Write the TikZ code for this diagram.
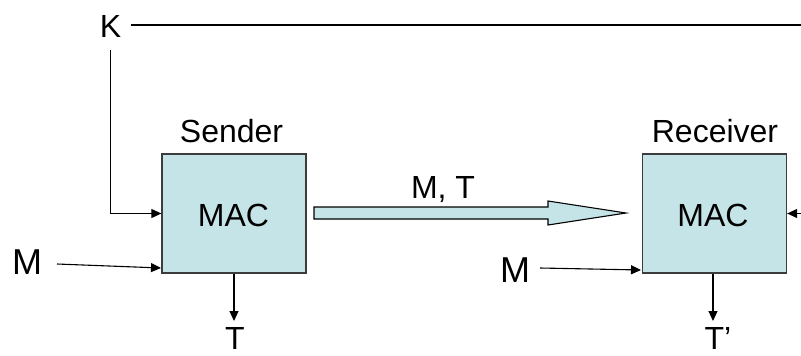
\documentclass[tikz,border=0pt]{standalone}
\usepackage{fontspec}
\setmainfont{Liberation Sans}
\usetikzlibrary{arrows.meta}
\definecolor{macfill}{RGB}{197,228,232}
\definecolor{boxline}{RGB}{60,60,60}
\begin{document}
\begin{tikzpicture}[x=1pt,y=-1pt,
  lbl/.style={inner sep=0pt,anchor=base,font=\fontsize{32}{36}\selectfont},
  mlbl/.style={inner sep=0pt,anchor=base,font=\fontsize{36}{40}\selectfont},
  macbox/.style={draw=boxline,fill=macfill,line width=1.3pt,minimum width=144pt,minimum height=119pt,inner sep=0pt},
  conn/.style={line width=1.1pt,black},
  arr/.style={conn,-{Triangle[length=10pt,width=9pt]}},
  blockarrow/.style={draw=black,fill=macfill,line width=1.1pt,line join=miter}
]
\useasboundingbox (0,0) rectangle (801,356);

% boxes
\node[macbox] (snd) at (234,213.5) {};
\node[macbox] (rcv) at (714.5,213.5) {};

% texts
\node[lbl] (K) at (110.5,37) {K};
\node[lbl] (sndlbl) at (231.5,142) {Sender};
\node[lbl] (rcvlbl) at (715,142) {Receiver};
\node[lbl] (mac1) at (233.5,226.5) {MAC};
\node[lbl] (mac2) at (713,226.5) {MAC};
\node[lbl] (MT) at (443,198) {M, T};
\node[mlbl] (M1) at (27,274) {M};
\node[mlbl] (M2) at (515,282) {M};
\node[lbl] (T1) at (235,349.5) {T};
\node[lbl] (T2) at (718,349.5) {T’};

% coordinates
\coordinate (kstart) at (131,25);
\coordinate (kend) at (801,25);
\coordinate (kdown) at (110.7,50);
\coordinate (kin) at (801,213.5);
\coordinate (m1start) at (57,264);
\coordinate (m1end) at (161,268);
\coordinate (m2start) at (540,268);
\coordinate (m2end) at (641,270);
\coordinate (t1end) at (234,321);
\coordinate (t2end) at (713,321);

% K line
\draw[conn] (kstart) -- (kend);
\draw[arr] (kdown) |- (snd.west);
\draw[arr] (kin) -- (rcv.east);

% M arrows
\draw[arr] (m1start) -- (m1end);
\draw[arr] (m2start) -- (m2end);

% T outputs
\draw[arr] (snd.south -| t1end) -- (t1end);
\draw[arr] (rcv.south -| t2end) -- (t2end);

% block arrow
\draw[blockarrow] (314,207) -- (548,207) -- (548,201) -- (626,213) -- (548,225) -- (548,219) -- (314,219) -- cycle;
\end{tikzpicture}
\end{document}
